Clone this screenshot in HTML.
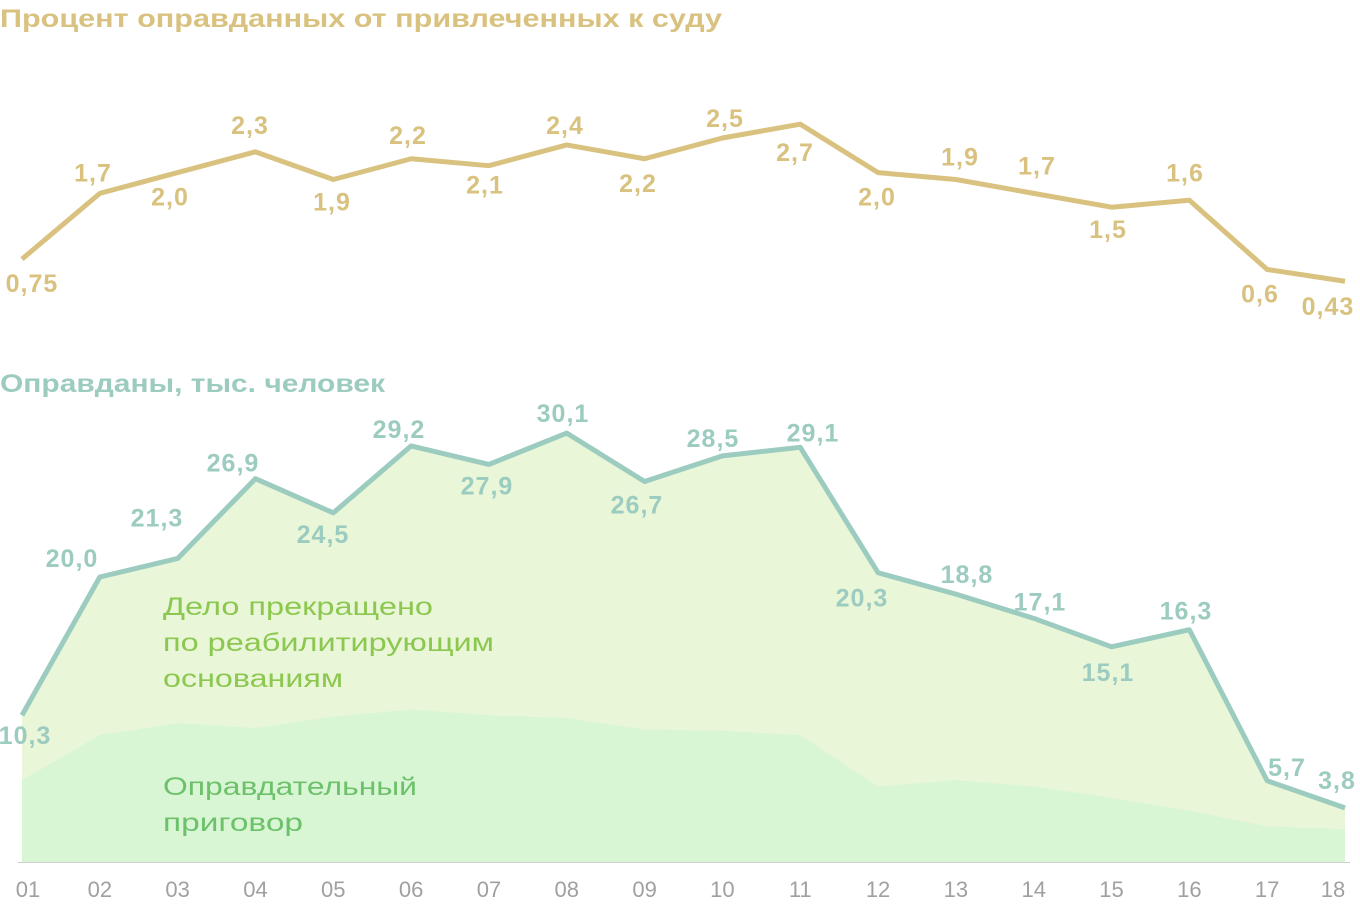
<!DOCTYPE html>
<html><head><meta charset="utf-8">
<style>
body{margin:0;background:#fff;width:1360px;height:900px;overflow:hidden;font-family:"Liberation Sans",sans-serif}
svg text{font-family:"Liberation Sans",sans-serif}
</style></head>
<body>
<svg id="c" width="1360" height="900">
<text x="0" y="27" font-size="25" font-weight="bold" fill="#d9c27f" textLength="722" lengthAdjust="spacingAndGlyphs">Процент оправданных от привлеченных к суду</text>
<text x="0" y="392" font-size="25" font-weight="bold" fill="#9ccbc0" textLength="385" lengthAdjust="spacingAndGlyphs">Оправданы, тыс. человек</text>
<g id="areas"></g>
<text x="163" y="615" font-size="25" fill="#8cc850" textLength="270" lengthAdjust="spacingAndGlyphs">Дело прекращено</text>
<text x="163" y="651" font-size="25" fill="#8cc850" textLength="331" lengthAdjust="spacingAndGlyphs">по реабилитирующим</text>
<text x="163" y="687" font-size="25" fill="#8cc850" textLength="180" lengthAdjust="spacingAndGlyphs">основаниям</text>
<text x="163" y="795" font-size="25" fill="#6cc16a" textLength="254" lengthAdjust="spacingAndGlyphs">Оправдательный</text>
<text x="163" y="831" font-size="25" fill="#6cc16a" textLength="140" lengthAdjust="spacingAndGlyphs">приговор</text>
<g id="lines"></g>
</svg>
<script>
const categories=["01","02","03","04","05","06","07","08","09","10","11","12","13","14","15","16","17","18"];
const percentValues=[0.75,1.7,2.0,2.3,1.9,2.2,2.1,2.4,2.2,2.5,2.7,2.0,1.9,1.7,1.5,1.6,0.6,0.43];
const percentLabels=["0,75","1,7","2,0","2,3","1,9","2,2","2,1","2,4","2,2","2,5","2,7","2,0","1,9","1,7","1,5","1,6","0,6","0,43"];
const acquittedTotal=[10.3,20.0,21.3,26.9,24.5,29.2,27.9,30.1,26.7,28.5,29.1,20.3,18.8,17.1,15.1,16.3,5.7,3.8];
const acquittedLabels=["10,3","20,0","21,3","26,9","24,5","29,2","27,9","30,1","26,7","28,5","29,1","20,3","18,8","17,1","15,1","16,3","5,7","3,8"];
const verdictValues=[5.75,8.9,9.75,9.4,10.2,10.7,10.3,10.1,9.3,9.2,8.9,5.3,5.75,5.3,4.5,3.6,2.5,2.3];
// label placement (style offsets, px)
const pLabX=[32,93,170,250,332,408,485,565,638,725,795,877,960,1037,1108,1185,1260,1328];
const pLabDy=[24,-21,24,-27,22,-24,19,-20,24,-20,28,24,-23,-28,22,-28,24,25];
const aLabX=[25,72,157,233,323,399,487,563,637,713,813,862,967,1040,1108,1186,1287,1337];
const aLabDy=[20,-19,-41,-16,21,-17,21,-20,23,-18,-15,25,-20,-17,25,-19,-14,-28];
const NS="http://www.w3.org/2000/svg";
const x=i=>22+i*(1345-22)/(categories.length-1);
const yTop=v=>311-v*69.2;
const yBot=v=>862-v*14.25;
const areas=document.getElementById('areas'),lines=document.getElementById('lines');
function mk(t,a,p){const e=document.createElementNS(NS,t);for(const k in a)e.setAttribute(k,a[k]);p.appendChild(e);return e;}
function areaPath(vals){let d=`M${x(0)},862`;vals.forEach((v,i)=>d+=` L${x(i)},${yBot(v)}`);return d+` L${x(vals.length-1)},862 Z`;}
const a1=mk('path',{d:areaPath(acquittedTotal),fill:'#e9f6d8'},areas);


const a2=mk('path',{d:areaPath(verdictValues),fill:'#d8f6d4'},areas);


const ax=mk('line',{x1:18,x2:1350,y1:862.5,y2:862.5,stroke:'#cfcfcf','stroke-width':1},areas);


const l1=mk('polyline',{points:percentValues.map((v,i)=>x(i)+','+yTop(v)).join(' '),fill:'none',stroke:'#d9c27f','stroke-width':5,'stroke-linejoin':'round'},lines);


const l2=mk('polyline',{points:acquittedTotal.map((v,i)=>x(i)+','+yBot(v)).join(' '),fill:'none',stroke:'#9ccbc0','stroke-width':5,'stroke-linejoin':'round'},lines);


categories.forEach((c,i)=>{
  const t=mk('text',{x:i==0?28:x(i)+(i==17?-12:0),y:897,'font-size':22,fill:'#a0a0a0','text-anchor':'middle'},lines);t.textContent=c;
  
  
  const t1=mk('text',{x:pLabX[i],y:yTop(percentValues[i])+pLabDy[i]+9,'font-size':25,'font-weight':'bold',fill:'#d9c27f','text-anchor':'middle','letter-spacing':1},lines);t1.textContent=percentLabels[i];
  
  
  const t2=mk('text',{x:aLabX[i],y:yBot(acquittedTotal[i])+aLabDy[i]+9,'font-size':25,'font-weight':'bold',fill:'#9ccbc0','text-anchor':'middle','letter-spacing':1},lines);t2.textContent=acquittedLabels[i];
  
  
});
</script>
</body></html>
